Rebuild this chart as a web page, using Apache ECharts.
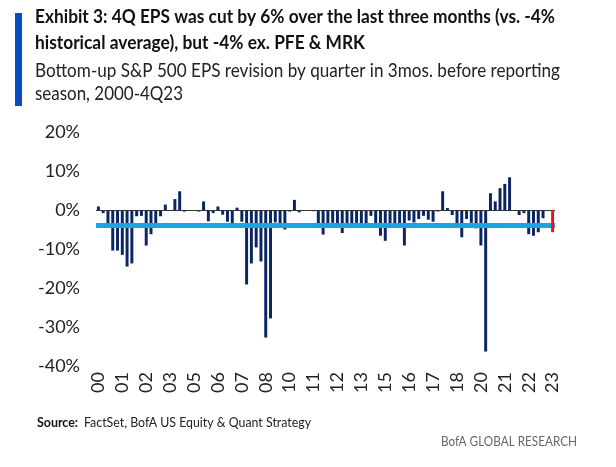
<!DOCTYPE html>
<html>
<head>
<meta charset="utf-8">
<script src="https://cdn.jsdelivr.net/npm/echarts@6/dist/echarts.min.js"></script>
<style>
html,body{margin:0;padding:0;background:#fff;}
#c{width:616px;height:467px;}
</style>
</head>
<body>
<div id="c"></div>
<script>
// Quarters 1Q00 .. 4Q23
const years = ["00","01","02","03","04","05","06","07","08","09","10","11","12","13","14","15","16","17","18","19","20","21","22","23"];
const quarters = [];
years.forEach(y => { ["1Q","2Q","3Q","4Q"].forEach(q => quarters.push(q + y)); });

// EPS revision (%) in the 3 months before reporting season, by quarter
const revisions2000s = [
  0.9, -0.8, -3.5, -10.4,  -10.4, -11.5, -14.5, -13.7,  -1.6, -1.5, -9.1, -6.2,
  -3.6, -1.6, 1.4, -0.2,   2.8, 4.8, -0.4, -0.2,   -0.2, -0.4, 2.2, -2.9,
  -0.8, 0.9, -1.2, -3.0,   -3.4, 0.6, -3.0, -19.1,  -13.7, -9.6, -13.2, -32.7,
  -27.8, -3.2, -3.4, -5.0
];
const revisions2010s = [
  -0.4, 2.6, -0.6, -0.2,   -0.2, -0.3, -3.4, -6.3,  -3.4, -3.3, -3.5, -5.9,
  -3.4, -3.5, -3.3, -3.5,  -3.4, -1.5, -3.4, -6.6,  -7.9, -3.4, -3.5, -4.4,
  -9.1, -2.7, -3.2, -2.3,  -1.5, -2.5, -3.0, -0.4,  4.8, 0.5, -1.3, -3.6,
  -7.0, -2.3, -3.3, -4.7
];
const revisions2020s = [
  -9.1, -36.3, 4.3, 2.2,   5.6, 6.7, 8.4, -0.2,   -1.3, -0.8, -6.2, -6.6,
  -5.7, -2.1, -0.2, -5.7
];
const revisions = revisions2000s.concat(revisions2010s, revisions2020s);
const historicalAverage = -4;
const yTicks = { min: -40, max: 20, interval: 10 };

const barColor = '#0b2462';
const lastColor = '#e8141b';

const mainData = revisions.map((v, i) => i === revisions.length - 1 ? null : v);
const lastData = revisions.map((v, i) => i === revisions.length - 1 ? v : null);

const chart = echarts.init(document.getElementById('c'), null, {renderer: 'canvas'});
const font = 'Lato, "Open Sans", sans-serif';

// fit a text line to a target width (condensed house font in the original)
const ctx = document.createElement('canvas').getContext('2d');
function fitText(text, fontStr, target) {
  ctx.font = fontStr;
  const w = ctx.measureText(text).width;
  return Math.min(1.15, target / w);
}
function textEl(text, left, top, fontStr, fill, target) {
  const s = target ? fitText(text, fontStr, target) : 1;
  return { type: 'text', x: left, y: top, scaleX: s, style: { text: text, font: fontStr, fill: fill } };
}

const tFont = 'bold 18px ' + font;
const sFont = '19px ' + font;

chart.setOption({
  animation: false,
  backgroundColor: '#fff',
  grid: { left: 96, right: 61, top: 132, bottom: 101, containLabel: false },
  xAxis: {
    type: 'category',
    data: quarters,
    axisLine: { show: false },
    axisTick: { show: false },
    axisLabel: {
      interval: 4,
      rotate: 90,
      margin: 6,
      fontFamily: font,
      fontSize: 18,
      color: '#222',
      formatter: v => v.slice(-2)
    }
  },
  yAxis: {
    type: 'value',
    min: yTicks.min, max: yTicks.max, interval: yTicks.interval,
    splitLine: { show: false },
    axisLine: { show: false },
    axisTick: { show: false },
    axisLabel: {
      margin: 16,
      fontFamily: font,
      fontSize: 18,
      color: '#222',
      formatter: v => v + '%'
    }
  },
  series: [
    {
      type: 'bar',
      data: mainData,
      barWidth: '62%',
      itemStyle: { color: barColor },
      markLine: {
        silent: true,
        symbol: ['none', 'none'],
        label: { show: false },
        z: 5,
        data: [
          { yAxis: 0, lineStyle: { color: '#333', width: 1, type: 'solid' } },
          { yAxis: historicalAverage, lineStyle: { color: '#1ba3e2', width: 5, type: 'solid' } }
        ]
      }
    },
    {
      type: 'bar',
      data: lastData,
      barWidth: '62%',
      barGap: '-100%',
      z: 8,
      itemStyle: { color: lastColor }
    }
  ],
  graphic: [
    { type: 'rect', left: 15, top: 13, shape: { width: 7, height: 93 }, style: { fill: '#0a4cc4' } },
    textEl('Exhibit 3: 4Q EPS was cut by 6% over the last three months (vs. -4%', 35, 8, tFont, '#111', 520),
    textEl('historical average), but -4% ex. PFE & MRK', 35, 34, tFont, '#111', 330),
    textEl('Bottom-up S&P 500 EPS revision by quarter in 3mos. before reporting', 35, 61, sFont, '#222', 525),
    textEl('season, 2000-4Q23', 35, 84, sFont, '#222', 148),
    textEl('Source:', 37, 416, 'bold 13px ' + font, '#111', 41),
    textEl('FactSet, BofA US Equity & Quant Strategy', 84, 416, '13px ' + font, '#222', 227),
    textEl('BofA GLOBAL RESEARCH', 441, 435, '13px ' + font, '#666', 136)
  ]
});
</script>
</body>
</html>
